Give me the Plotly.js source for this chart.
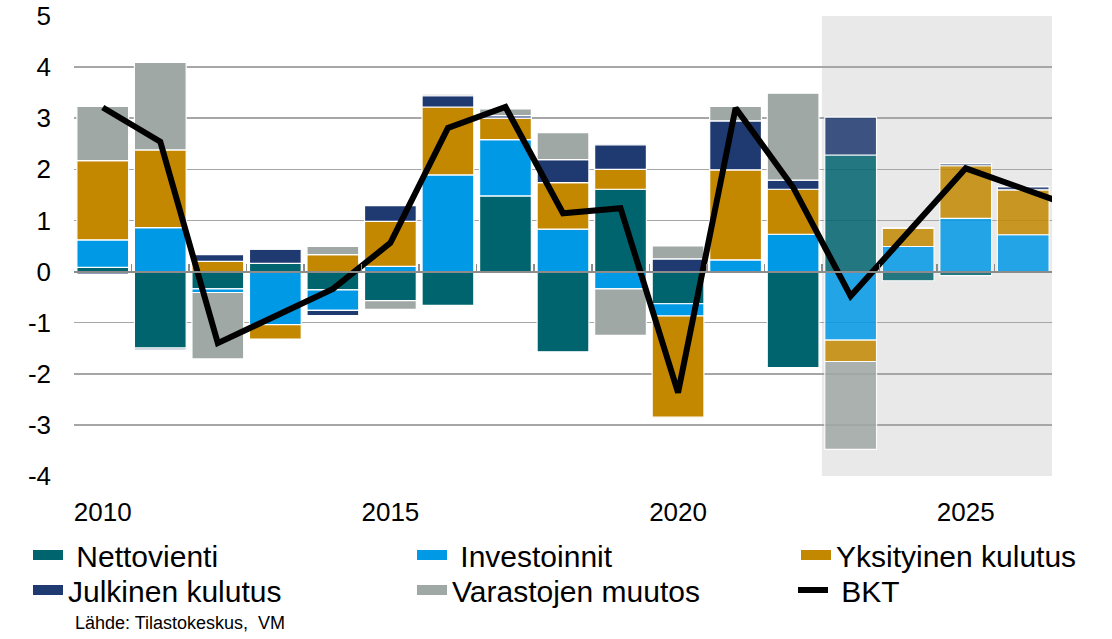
<!DOCTYPE html>
<html>
<head>
<meta charset="utf-8">
<script src="https://cdn.plot.ly/plotly-3.0.1.min.js"></script>
<style>
html,body{margin:0;padding:0;background:#ffffff;}
#chart{width:1112px;height:639px;}
</style>
</head>
<body>
<div id="chart"></div>
<script>
// ---- data ----
const years = [2010,2011,2012,2013,2014,2015,2016,2017,2018,2019,2020,2021,2022,2023,2024,2025,2026];
const nettovienti        = [0.08,-1.50,-0.34, 0.16,-0.36,-0.57,-0.66, 1.48,-1.57, 1.61,-0.63,-0.03,-1.88, 2.28,-0.18,-0.08, 0.00];
const investoinnit       = [0.54, 0.86,-0.07,-1.04,-0.40, 0.10, 1.89, 1.10, 0.83,-0.34,-0.24, 0.23, 0.73,-1.34, 0.49, 1.04, 0.72];
const yksityinenKulutus  = [1.55, 1.52, 0.20,-0.28, 0.33, 0.88, 1.33, 0.42, 0.91, 0.39,-1.98, 1.76, 0.88,-0.42, 0.36, 1.03, 0.88];
const julkinenKulutus    = [-0.05,-0.03,0.13, 0.28,-0.10, 0.31, 0.22, 0.05, 0.45, 0.48, 0.25, 0.96, 0.18, 0.74, 0.00, 0.04, 0.06];
const varastojenMuutos   = [1.06, 1.71,-1.30, 0.00, 0.16,-0.17, 0.03, 0.13, 0.53,-0.91, 0.25, 0.28, 1.70,-1.72, 0.00, 0.00, 0.00];
const bktYears = [2010,2011,2012,2013,2014,2015,2016,2017,2018,2019,2020,2021,2022,2023,2024,2025,2026,2027];
const bkt      = [3.21, 2.54,-1.40,-0.87,-0.34, 0.56, 2.81, 3.22, 1.14, 1.24,-2.37, 3.20, 1.65,-0.48, 0.78, 2.02, 1.62, 1.22];
const forecastStart = 2023;
const xTickVals = [2010, 2015, 2020, 2025];
const xTickText = ['2010', '2015', '2020', '2025'];
const yTickVals = [-4,-3,-2,-1,0,1,2,3,4,5];
const yTickText = ['-4','-3','-2','-1','0','1','2','3','4','5'];
const seriesNames = ['Nettovienti','Investoinnit','Yksityinen kulutus','Julkinen kulutus','Varastojen muutos','BKT'];
const sourceText = 'Lähde: Tilastokeskus,\u00a0 VM';

// ---- styles ----
const FONT = '"Liberation Sans", Arial, sans-serif';
const colors = ['#00646f', '#0099e6', '#c38800', '#1f3a70', '#a0a8a6'];
const barValues = [nettovienti, investoinnit, yksityinenKulutus, julkinenKulutus, varastojenMuutos];
const legendLabels = ['\u00a0' + seriesNames[0], '\u00a0' + seriesNames[1], seriesNames[2], seriesNames[3], seriesNames[4], '\u00a0' + seriesNames[5]];
// legend item positions in px (left of item box, centre of row)
const legendPos = [[28,555],[412,555],[796,555],[28,590],[412,590],[793,590]];

const xMin = years[0] - 0.5, xMax = years[years.length-1] + 0.5;
const yMin = -4, yMax = 5;
const opac = years.map(y => y >= forecastStart ? 0.85 : 1);
const boundaries = years.map(y => y - 0.5).concat([xMax]);

const traces = [];
barValues.forEach((vals, i) => {
  traces.push({
    type: 'bar', x: years, y: vals, name: seriesNames[i],
    showlegend: false, legendgroup: 'g' + i,
    width: 0.9,
    marker: {color: colors[i], opacity: opac, line: {color: '#ffffff', width: 1.2}}
  });
});
// legend swatches (wide rectangles as in the original)
barValues.forEach((vals, i) => {
  traces.push({
    type: 'scatter', mode: 'lines', x: [null], y: [null],
    name: legendLabels[i], legendgroup: 'g' + i,
    legend: i === 0 ? 'legend' : 'legend' + (i + 1),
    line: {color: colors[i], width: 12}, hoverinfo: 'skip'
  });
});
traces.push({
  type: 'scatter', mode: 'lines', x: bktYears, y: bkt, name: legendLabels[5],
  xaxis: 'x2', yaxis: 'y', legend: 'legend6',
  line: {color: '#000000', width: 6}
});

const layout = {
  width: 1112, height: 639,
  margin: {l: 74, r: 60, t: 16, b: 163, autoexpand: false},
  paper_bgcolor: '#ffffff', plot_bgcolor: '#ffffff',
  barmode: 'relative', bargap: 0,
  font: {family: FONT, color: '#000000', size: 26},
  xaxis: {
    range: [xMin, xMax], tickmode: 'array', tickvals: xTickVals, ticktext: xTickText,
    ticks: '', showgrid: false, zeroline: false, showline: false,
    tickfont: {size: 26, color: '#000000'}, ticklabelstandoff: 18
  },
  xaxis2: {
    overlaying: 'x', anchor: 'free', position: (0 - yMin) / (yMax - yMin),
    range: [xMin, xMax], tickmode: 'array', tickvals: boundaries,
    ticks: 'inside', ticklen: 7, tickwidth: 1.5, tickcolor: '#8c8c8c',
    showticklabels: false, showline: true, linecolor: '#8c8c8c', linewidth: 2,
    showgrid: false, zeroline: false
  },
  yaxis: {
    range: [yMin, yMax], tickmode: 'array', tickvals: yTickVals, ticktext: yTickText,
    showgrid: true, gridcolor: '#a6a6a6', gridwidth: 1.5, zeroline: false,
    ticks: '', ticklabelstandoff: 22, tickfont: {size: 26, color: '#000000'}
  },
  shapes: [{
    type: 'rect', xref: 'x', yref: 'paper', x0: forecastStart - 0.5, x1: xMax, y0: 0, y1: 1,
    fillcolor: '#e9e9e9', line: {width: 0}, layer: 'below'
  }],
  annotations: [{
    xref: 'paper', yref: 'paper', x: -1/978, y: (476 - 623) / 460,
    xanchor: 'left', yanchor: 'middle', showarrow: false,
    text: sourceText, font: {size: 18, color: '#000000', family: FONT}
  }]
};
legendPos.forEach((p, i) => {
  const key = i === 0 ? 'legend' : 'legend' + (i + 1);
  layout[key] = {
    xref: 'container', yref: 'container', x: p[0] / 1112, y: 1 - p[1] / 639,
    xanchor: 'left', yanchor: 'middle', orientation: 'v',
    bgcolor: 'rgba(0,0,0,0)', borderwidth: 0,
    font: {size: 30, color: '#000000', family: FONT}
  };
});

Plotly.newPlot('chart', traces, layout, {displayModeBar: false, staticPlot: true});
</script>
</body>
</html>
